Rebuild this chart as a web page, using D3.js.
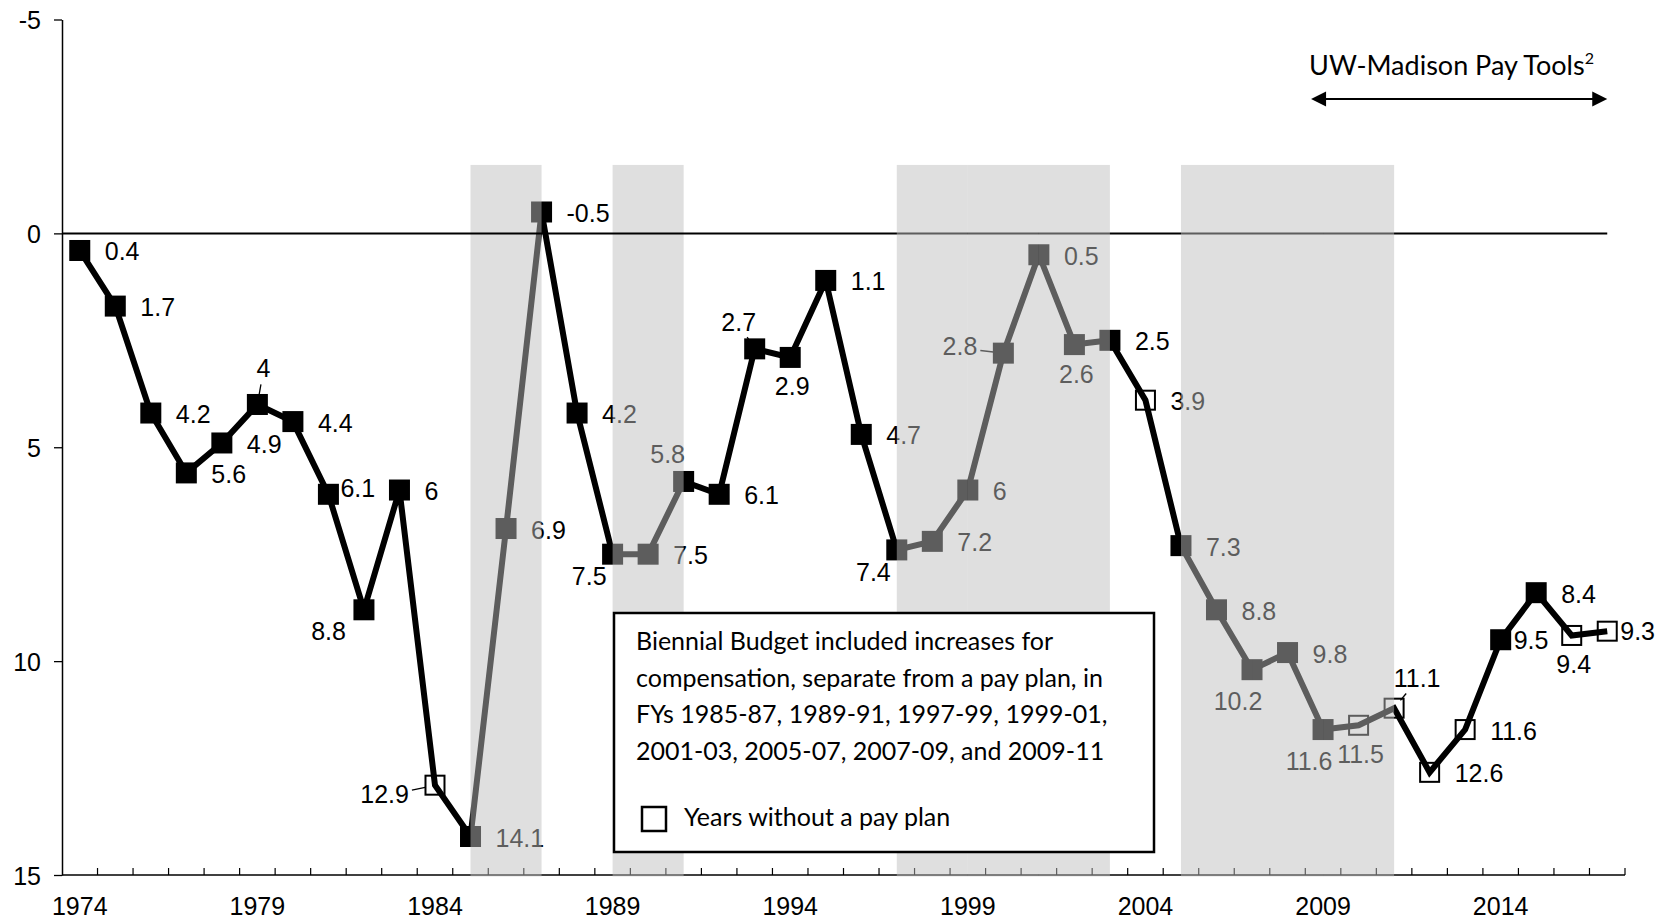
<!DOCTYPE html>
<html><head><meta charset="utf-8">
<script src="https://cdn.jsdelivr.net/npm/d3@7"></script>
<style>
html,body{margin:0;padding:0;background:#fff;}
svg{display:block;}
</style></head><body>
<svg id="chart" width="1669" height="922"></svg>
<script>
// ---------------- data ----------------
const years = [1974,1975,1976,1977,1978,1979,1980,1981,1982,1983,1984,1985,1986,1987,1988,1989,1990,1991,1992,1993,1994,1995,1996,1997,1998,1999,2000,2001,2002,2003,2004,2005,2006,2007,2008,2009,2010,2011,2012,2013,2014,2015,2016,2017];
const values = [0.4,1.7,4.2,5.6,4.9,4,4.4,6.1,8.8,6,12.9,14.1,6.9,-0.5,4.2,7.5,7.5,5.8,6.1,2.7,2.9,1.1,4.7,7.4,7.2,6,2.8,0.5,2.6,2.5,3.9,7.3,8.8,10.2,9.8,11.6,11.5,11.1,12.6,11.6,9.5,8.4,9.4,9.3];
// 1 = pay plan that year, 0 = years without a pay plan (open square)
const payPlan = [1,1,1,1,1,1,1,1,1,1,0,1,1,1,1,1,1,1,1,1,1,1,1,1,1,1,1,1,1,1,0,1,1,1,1,1,0,0,0,0,1,1,0,0];
// label placement codes (side of the point on which the value label sits)
const labelSpots = ["R","R","R","R","R","A","R","RNH","SWF","R","WL","R","R","R","R","SW","R","NW","R","NW","B","R","R","SW","R","R","WH","R","B","R","R","R","R","BL","R","BL","B","NE","R","R","RN","R","B","RN"];
const leaderYears = [1979,1984,1993,2000,2011];
// bienniums with compensation increases separate from a pay plan (shaded)
const shadedStart = [1985,1989,1997,1999,2001,2005,2007,2009];
const shadedEnd   = [1987,1991,1999,2001,2003,2007,2009,2011];
const yTicks = [-5,0,5,10,15];
const xTickLabels = [1974,1979,1984,1989,1994,1999,2004,2009,2014];
const payToolsYears = [2009,2017];
const legendLines = ["Biennial Budget included increases for","compensation, separate from a pay plan, in","FYs 1985-87, 1989-91, 1997-99, 1999-01,","2001-03, 2005-07, 2007-09, and 2009-11"];
const legendKey = "Years without a pay plan";
const noteText = "UW-Madison Pay Tools";
const noteSup = "2";

// ---------------- layout ----------------
const svg = d3.select("#chart");
const numFont = "'Liberation Sans', Arial, sans-serif";
const txtFont = "Lato, 'Open Sans', sans-serif";
const FS = 25;

const x = d3.scaleBand().domain(years).range([62,1625]).padding(0);
const y = d3.scaleLinear().domain([-5,15]).range([19.5,875]);
const cx = yr => x(yr) + x.bandwidth()/2;
const data = years.map((yr,i)=>({year:yr, value:values[i], plan:payPlan[i], spot:labelSpots[i]}));

// y axis
const yAxis = d3.axisLeft(y).tickValues(yTicks).tickSize(8).tickSizeOuter(0).tickPadding(13).tickFormat(d=>String(d));
const gy = svg.append("g").attr("transform","translate(62,0)").call(yAxis);
gy.select(".domain").attr("stroke","#000").attr("stroke-width",1.5);
gy.selectAll(".tick line").attr("stroke","#000").attr("stroke-width",1.3);
gy.selectAll(".tick text").attr("font-family",numFont).attr("font-size",FS).attr("fill","#000").attr("dy","0.36em");

// x axis
const x0 = x.range()[0], x1 = x.range()[1], yb = y(15);
svg.append("line").attr("x1",x0).attr("x2",x1).attr("y1",yb).attr("y2",yb).attr("stroke","#000").attr("stroke-width",1.5);
svg.append("g").selectAll("line").data(years.slice(1).map(d=>x(d)).concat([x1])).join("line")
  .attr("x1",d=>d).attr("x2",d=>d).attr("y1",yb).attr("y2",yb-7).attr("stroke","#000").attr("stroke-width",1.2);
svg.append("g").selectAll("text").data(xTickLabels).join("text")
  .attr("x",d=>cx(d)).attr("y",yb+40).attr("text-anchor","middle")
  .attr("font-family",numFont).attr("font-size",FS).attr("fill","#000").text(d=>d);

// series line
const line = d3.line().x(d=>cx(d.year)).y(d=>y(d.value));
svg.append("path").datum(data).attr("d",line).attr("fill","none").attr("stroke","#000").attr("stroke-width",6).attr("stroke-linejoin","miter");

// markers
const mk = svg.append("g");
mk.selectAll("rect.f").data(data.filter(d=>d.plan===1)).join("rect").attr("class","f")
  .attr("x",d=>cx(d.year)-10.5).attr("y",d=>y(d.value)-10.5).attr("width",21).attr("height",21).attr("fill","#000");
mk.selectAll("rect.o").data(data.filter(d=>d.plan===0)).join("rect").attr("class","o")
  .attr("x",d=>cx(d.year)-9.5).attr("y",d=>y(d.value)-9.5).attr("width",19).attr("height",19)
  .attr("fill","none").attr("stroke","#000").attr("stroke-width",2);

// value labels
const spot = {
  R:{a:"start",dx:25,dy:1}, RN:{a:"start",dx:13,dy:0}, RNH:{a:"start",dx:12,dy:-6}, A:{a:"middle",dx:6,dy:-36},
  NW:{a:"middle",dx:-16,dy:-27}, NE:{a:"middle",dx:23,dy:-30}, B:{a:"middle",dx:2,dy:29},
  BL:{a:"middle",dx:-14,dy:31}, SW:{a:"end",dx:-6,dy:22}, SWF:{a:"end",dx:-18,dy:21},
  WL:{a:"end",dx:-26,dy:9}, WH:{a:"end",dx:-26,dy:-7}
};
const lg = svg.append("g");
data.forEach(d=>{
  const s = spot[d.spot], px = cx(d.year), py = y(d.value);
  const t = lg.append("text").attr("x",px+s.dx).attr("y",py+s.dy+0.36*FS).attr("text-anchor",s.a)
    .attr("font-family",numFont).attr("font-size",FS).attr("fill","#000").text(String(d.value));
  if (leaderYears.includes(d.year)) {
    const b = t.node().getBBox();
    const bx = b.x+b.width/2, by = b.y+b.height/2+2;
    const vx = px-bx, vy = py-by;
    const k = Math.min((b.width/2)/Math.abs(vx||1e-6),(b.height/2-3)/Math.abs(vy||1e-6));
    const ex = bx+vx*k, ey = by+vy*k;
    const L = Math.hypot(px-ex,py-ey), ux=(ex-px)/L, uy=(ey-py)/L;
    const s0 = Math.min(10, L-4), s1 = Math.max(s0+4, L-3);
    lg.append("line").attr("x1",px+ux*s0).attr("y1",py+uy*s0).attr("x2",px+ux*s1).attr("y2",py+uy*s1)
      .attr("stroke","#000").attr("stroke-width",1.3);
  }
});

// shading (translucent, drawn over the series)
const shades = shadedStart.map((s,i)=>({s:s,e:shadedEnd[i]}));
const shTop = y(-1.6), shBot = yb+1.5;
function drawShade(list){
  svg.append("g").selectAll("rect").data(list).join("rect")
    .attr("x",d=>cx(d.s)).attr("width",d=>cx(d.e)-cx(d.s)).attr("y",shTop).attr("height",shBot-shTop)
    .attr("fill","#bdbdbd").attr("fill-opacity",0.49);
}
drawShade(shades.filter(d=>d.s<1995));
// zero line
svg.append("line").attr("x1",x0).attr("x2",cx(2017)).attr("y1",y(0)).attr("y2",y(0)).attr("stroke","#000").attr("stroke-width",2);
drawShade(shades.filter(d=>d.s>=1995));

// legend box
const lgx = 614, lgy = 613;
svg.append("rect").attr("x",lgx).attr("y",lgy).attr("width",540).attr("height",239)
  .attr("fill","#fff").attr("stroke","#000").attr("stroke-width",2.5);
svg.append("g").selectAll("text").data(legendLines).join("text")
  .attr("x",lgx+22).attr("y",(d,i)=>lgy+37+i*36.7)
  .attr("font-family",txtFont).attr("font-size",25).attr("fill","#000").text(d=>d);
svg.append("rect").attr("x",lgx+28).attr("y",lgy+194).attr("width",24).attr("height",24)
  .attr("fill","none").attr("stroke","#000").attr("stroke-width",2.5);
svg.append("text").attr("x",lgx+70).attr("y",lgy+213)
  .attr("font-family",txtFont).attr("font-size",25).attr("fill","#000").text(legendKey);

// pay tools annotation
const ax0 = cx(payToolsYears[0]) - 12, ax1 = cx(payToolsYears[1]), ay = 99;
svg.append("line").attr("x1",ax0+12).attr("x2",ax1-12).attr("y1",ay).attr("y2",ay).attr("stroke","#000").attr("stroke-width",2.2);
svg.append("path").attr("d",`M${ax0},${ay}L${ax0+15},${ay-7.5}L${ax0+15},${ay+7.5}Z`).attr("fill","#000");
svg.append("path").attr("d",`M${ax1},${ay}L${ax1-15},${ay-7.5}L${ax1-15},${ay+7.5}Z`).attr("fill","#000");
const nt = svg.append("text").attr("x",ax0-2).attr("y",75).attr("font-family",txtFont).attr("font-size",27).attr("fill","#000");
nt.append("tspan").text(noteText);
nt.append("tspan").attr("dy",-11).attr("font-size",16).text(noteSup);
</script>
</body></html>
